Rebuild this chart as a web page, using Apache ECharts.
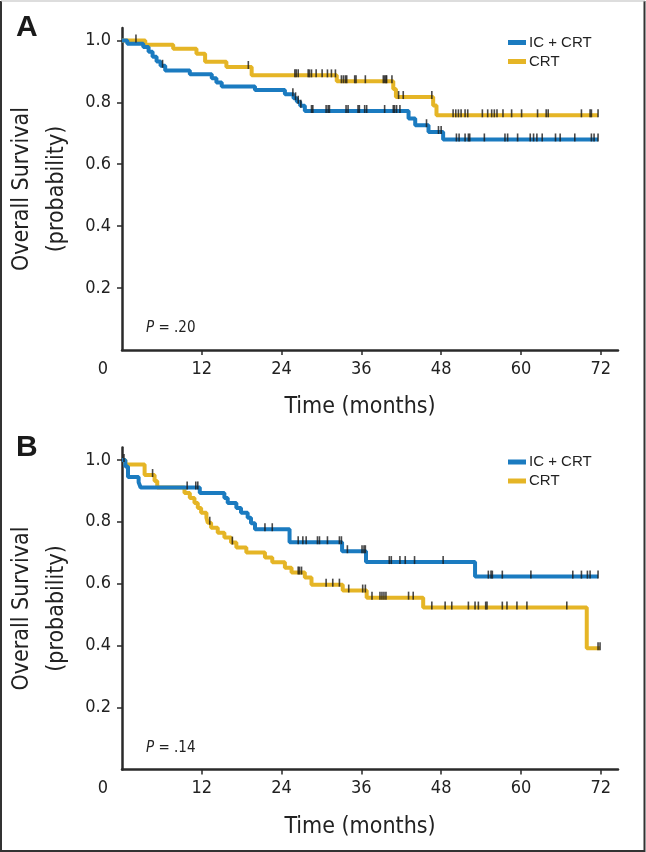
<!DOCTYPE html>
<html><head><meta charset="utf-8">
<script src="https://cdn.jsdelivr.net/npm/echarts@6/dist/echarts.min.js"></script>
<style>html,body{margin:0;padding:0;background:#fff}#c{width:646px;height:852px}</style>
</head><body><div id="c"></div>
<script>
// ---- tick labels / names ----
const xTickLabels = [0, 12, 24, 36, 48, 60, 72];
const yTickLabels = [0.2, 0.4, 0.6, 0.8, 1.0];
const seriesNames = ['IC + CRT', 'CRT'];
const panelLetters = ['A', 'B'];
const pValueTexts = ['.20', '.14'];

// ---- Panel A : IC + CRT ----
const aIcTime = [0, 0.8, 3.2, 4.0, 4.6, 5.2, 5.8, 6.5, 10.2, 13.5, 14.2, 15.0, 20.0, 24.5, 25.8, 26.3, 26.8, 27.5, 43.1, 44.1, 46.1, 48.3, 71.6];
const aIcSurv = [1, 0.989, 0.979, 0.963, 0.947, 0.932, 0.918, 0.903, 0.891, 0.878, 0.864, 0.851, 0.840, 0.826, 0.813, 0.802, 0.789, 0.772, 0.748, 0.726, 0.704, 0.680, 0.680];
const aIcCensor = [6.1, 25.7, 26.1, 26.5, 26.9, 28.5, 28.7, 30.7, 31.0, 31.2, 33.7, 34.0, 35.5, 35.7, 36.5, 36.8, 39.5, 40.8, 41.0, 41.3, 41.8, 45.8, 47.6, 48.0, 50.3, 50.7, 51.6, 52.1, 52.3, 54.5, 57.6, 58.0, 59.5, 61.4, 61.9, 62.4, 63.2, 65.2, 65.9, 68.1, 70.6, 71.0, 71.6];
// ---- Panel A : CRT ----
const aCrtTime = [0, 3.5, 7.7, 11.2, 12.5, 15.7, 19.5, 32.3, 40.8, 41.2, 46.8, 47.3, 71.6];
const aCrtSurv = [1, 0.986, 0.973, 0.957, 0.931, 0.914, 0.887, 0.868, 0.843, 0.817, 0.790, 0.758, 0.758];
const aCrtCensor = [2.1, 19.0, 26.0, 26.2, 26.5, 28.0, 28.2, 28.5, 29.2, 30.1, 30.9, 31.5, 32.1, 33.0, 33.3, 33.6, 33.8, 35.0, 35.2, 36.6, 39.3, 39.5, 39.7, 39.8, 40.6, 41.6, 42.3, 46.6, 49.8, 50.2, 50.6, 51.0, 51.6, 52.0, 54.2, 55.0, 55.6, 56.0, 56.4, 57.3, 58.6, 60.1, 62.5, 63.8, 64.1, 69.1, 70.4, 70.6, 71.6];

// ---- Panel B : IC + CRT ----
const bIcTime = [0, 0.5, 0.9, 2.5, 2.8, 11.7, 15.4, 15.9, 17.2, 17.9, 18.9, 19.4, 20.0, 25.2, 33.1, 36.7, 53.1, 71.6];
const bIcSurv = [1, 0.979, 0.945, 0.928, 0.911, 0.893, 0.877, 0.861, 0.845, 0.829, 0.813, 0.795, 0.776, 0.734, 0.705, 0.670, 0.623, 0.623];
const bIcCensor = [0.3, 9.8, 11.1, 11.4, 21.5, 22.6, 26.5, 27.2, 27.7, 29.4, 29.7, 30.9, 32.7, 33.0, 33.9, 36.1, 36.4, 36.6, 40.2, 40.5, 41.8, 42.6, 44.0, 48.3, 55.1, 55.5, 55.7, 57.2, 61.5, 67.8, 69.1, 70.0, 70.4, 71.6];
// ---- Panel B : CRT ----
const bCrtTime = [0, 0.5, 3.4, 4.9, 5.3, 9.4, 10.2, 10.9, 11.4, 11.9, 12.7, 12.9, 13.4, 14.4, 15.4, 16.4, 17.2, 18.7, 21.5, 22.6, 24.5, 25.5, 27.5, 28.5, 33.2, 36.8, 45.3, 69.9, 71.9];
const bCrtSurv = [1, 0.985, 0.951, 0.932, 0.911, 0.893, 0.877, 0.861, 0.845, 0.829, 0.813, 0.797, 0.781, 0.765, 0.749, 0.733, 0.717, 0.701, 0.685, 0.669, 0.652, 0.636, 0.620, 0.597, 0.578, 0.555, 0.523, 0.392, 0.392];
const bCrtCensor = [4.6, 13.2, 16.6, 26.5, 26.7, 27.0, 30.7, 31.7, 32.7, 34.1, 36.2, 36.6, 37.6, 38.8, 39.1, 39.4, 39.7, 43.1, 43.8, 46.6, 48.6, 49.6, 52.1, 53.1, 53.6, 54.7, 54.9, 57.2, 57.9, 59.4, 60.9, 66.9, 71.6, 71.9];

// ---- styling ----
const COLORS = ['#1b7bc0', '#e5b526'];
const AX = '#2a2a2a';
const NARROW = "'Liberation Sans Narrow','DejaVu Sans Condensed','Liberation Sans',sans-serif";
const SANS = "'Liberation Sans',Arial,sans-serif";

const panels = [
  { curves: [[aIcTime, aIcSurv, aIcCensor], [aCrtTime, aCrtSurv, aCrtCensor]], top: 28 },
  { curves: [[bIcTime, bIcSurv, bIcCensor], [bCrtTime, bCrtSurv, bCrtCensor]], top: 447.5 }
];

function levelAt(times, surv, t) {
  let v = surv[0];
  for (let i = 0; i < times.length; i++) { if (times[i] <= t) v = surv[i]; }
  return v;
}

const grid = [], xAxis = [], yAxis = [], series = [], legend = [], graphic = [];
panels.forEach((p, pi) => {
  grid.push({ left: 122, top: p.top, width: 496, height: 322, containLabel: false, outerBoundsMode: 'none' });
  xAxis.push({
    type: 'value', gridIndex: pi, min: 0, max: 74.6,
    axisLine: { show: true, lineStyle: { color: AX, width: 2.5 } },
    axisTick: { show: true, customValues: xTickLabels.slice(1), length: 5, lineStyle: { color: AX, width: 1.5 } },
    axisLabel: {
      customValues: xTickLabels, margin: 10, fontSize: 18, color: '#222', fontFamily: NARROW,
      formatter: v => v === 0 ? '{o|0}' : String(v),
      rich: { o: { padding: [0, 38, 0, 0], fontSize: 18, color: '#222', fontFamily: NARROW } }
    },
    splitLine: { show: false },
    name: 'Time (months)', nameLocation: 'middle', nameGap: 46,
    nameTextStyle: { fontSize: 23, color: '#222', fontFamily: NARROW, padding: [0, 20, 0, 0] }
  });
  yAxis.push({
    type: 'value', gridIndex: pi, min: 0, max: 1.04,
    axisLine: { show: true, lineStyle: { color: AX, width: 2.5 } },
    axisTick: { show: true, customValues: yTickLabels, length: 5, lineStyle: { color: AX, width: 1.5 } },
    axisLabel: { customValues: yTickLabels, margin: 11, fontSize: 18, color: '#222', fontFamily: NARROW, formatter: v => v.toFixed(1) },
    splitLine: { show: false },
    name: 'Overall Survival\n(probability)', nameLocation: 'middle', nameGap: 42, nameRotate: 90,
    nameTextStyle: { fontSize: 23, lineHeight: 35, color: '#222', fontFamily: NARROW, align: 'center' }
  });
  p.curves.forEach((c, ci) => {
    const [times, surv] = c;
    series.push({
      name: seriesNames[ci], type: 'line', step: 'end', xAxisIndex: pi, yAxisIndex: pi,
      showSymbol: false, symbol: 'none', animation: false, z: 2 + (ci === 1 ? 0 : 1),
      lineStyle: { color: COLORS[ci], width: 4 }, itemStyle: { color: COLORS[ci] },
      data: times.map((t, i) => [t, surv[i]])
    });
  });
  p.curves.forEach((c, ci) => {
    const [times, surv, cens] = c;
    series.push({
      name: 'censor' + pi + ci, type: 'scatter', xAxisIndex: pi, yAxisIndex: pi, silent: true, animation: false, z: 5,
      symbol: 'rect', symbolSize: [1.6, 8], symbolOffset: [0, -2],
      itemStyle: { color: '#1a1a1a' },
      data: cens.map(t => [t, levelAt(times, surv, t)])
    });
  });
  legend.push({
    data: seriesNames, orient: 'vertical', left: 503, top: p.top + 2, itemGap: 4,
    icon: 'rect', itemWidth: 18, itemHeight: 5, selectedMode: false,
    textStyle: { fontSize: 15, color: '#222', fontFamily: SANS, padding: [0, 0, 0, -2] }
  });
  graphic.push({
    type: 'text', left: 16, top: p.top - 15,
    style: { text: panelLetters[pi], fontSize: 30, fontWeight: 'bold', fill: '#1a1a1a', fontFamily: SANS }
  });
  graphic.push({
    type: 'text', left: 146, top: p.top + 293,
    style: {
      text: '{i|P} = ' + pValueTexts[pi], fontSize: 15, fill: '#222', fontFamily: NARROW,
      rich: { i: { fontStyle: 'italic', fontSize: 15, fill: '#222', fontFamily: NARROW } }
    }
  });
});
graphic.push({ type: 'polyline', shape: { points: [[1, 1], [1, 851], [644.5, 851], [644.5, 1]] }, style: { stroke: '#333', lineWidth: 2, fill: null } });
graphic.push({ type: 'line', shape: { x1: 1, y1: 1, x2: 645, y2: 1 }, style: { stroke: '#bbb', lineWidth: 1 } });

const chart = echarts.init(document.getElementById('c'), null, { renderer: 'canvas' });
chart.setOption({ animation: false, backgroundColor: '#fff', grid, xAxis, yAxis, series, legend, graphic });
</script></body></html>
